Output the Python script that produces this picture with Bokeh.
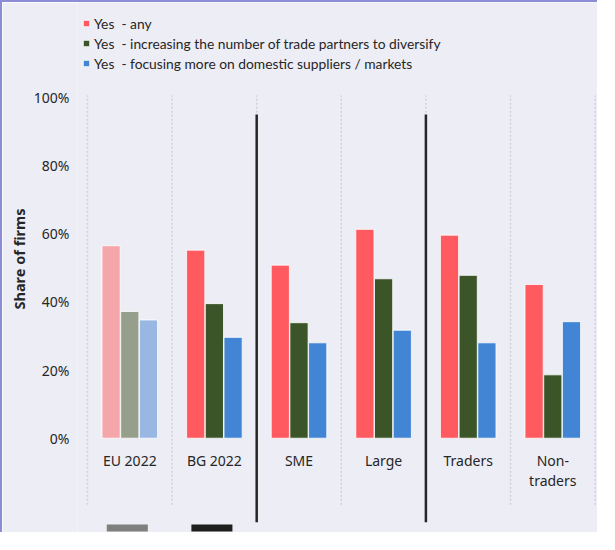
import math
from bokeh.plotting import figure
from bokeh.models import FixedTicker, Legend, LegendItem, Title, ColumnDataSource
from bokeh.core.properties import value
from bokeh.embed import file_html
from bokeh.resources import INLINE

# ---------------- data ----------------
categories = ["EU 2022", "BG 2022", "SME", "Large", "Traders", "Non-\ntraders"]
yes_any = [56.5, 55.2, 50.8, 61.3, 59.6, 45.1]
more_partners = [37.2, 39.5, 33.9, 46.8, 47.8, 18.6]
domestic = [34.7, 29.6, 28.0, 31.7, 28.0, 34.2]
series_names = [
    "Yes  - any",
    "Yes  - increasing the number of trade partners to diversify",
    "Yes  - focusing more on domestic suppliers / markets",
]
y_ticks = [0, 20, 40, 60, 80, 100]
y_tick_labels = ["0%", "20%", "40%", "60%", "80%", "100%"]
separator_after = [2, 4]      # solid separators between groups (category boundaries)
marker_categories = [0, 1]    # small bars under EU / BG

# ---------------- style ----------------
FONT = "Noto Sans"
LEG_FONT = "Lato"
BG = "#EDEDF5"
TXT = "#262626"
main_colors = ["#FF5A5F", "#3B5529", "#4285D4"]
faded_colors = ["#F5A6AB", "#959F8C", "#98B7E2"]
marker_colors = ["#7F7F7F", "#1E1E1E"]
offsets = [-0.221, 0.0, 0.221]
bar_w = 0.215

p = figure(
    width=597, height=532,
    x_range=(-0.1182, 6.052), y_range=(-28.26, 127.88),
    x_axis_location=None,
    output_backend="svg", toolbar_location=None,
    min_border_left=75, min_border_right=0, min_border_top=0, min_border_bottom=0,
)
p.styles = {"border-top": "2px solid #8C8CD7", "border-left": "2px solid #8C8CD7"}
p.background_fill_color = BG
p.border_fill_color = BG
p.outline_line_color = None
p.xgrid.visible = False
p.ygrid.visible = False

ya = p.yaxis[0]
ya.ticker = FixedTicker(ticks=y_ticks)
ya.major_label_overrides = {t: l for t, l in zip(y_ticks, y_tick_labels)}
ya.axis_line_color = None
ya.major_tick_line_color = None
ya.minor_tick_line_color = None
ya.major_tick_in = 0
ya.major_tick_out = 0
ya.major_label_standoff = 8
ya.major_label_text_font = FONT
ya.major_label_text_font_size = "14px"
ya.major_label_text_color = TXT

n = len(categories)
bounds = list(range(n + 1))
# dotted category dividers
p.segment(x0=bounds, y0=[-19.5] * len(bounds), x1=bounds, y1=[100.6] * len(bounds),
          line_color="#D0D0DC", line_dash="2 2", line_width=1.5)

# bars
renderers = []
for s, vals in enumerate([yes_any, more_partners, domestic]):
    xs = [i + 0.5 + offsets[s] for i in range(n)]
    cols = [faded_colors[s] if i == 0 else main_colors[s] for i in range(n)]
    src = ColumnDataSource(dict(x=xs, top=vals, color=cols))
    r = p.vbar(x="x", top="top", width=bar_w, bottom=0, source=src,
               fill_color="color", line_color="white", line_width=1, line_alpha=0.8)
    renderers.append(r)

# solid separators
p.segment(x0=separator_after, y0=[-24.7] * len(separator_after),
          x1=separator_after, y1=[95.0] * len(separator_after),
          line_color="#262626", line_width=2.5)

# category labels
p.text(x=[i + 0.5 for i in range(n)], y=[-3.7] * n, text=categories,
       text_align="center", text_baseline="top",
       text_font=value(FONT), text_font_size="14px", text_color=TXT,
       text_line_height=1.05)

# small marker bars below EU / BG
p.quad(left=[i + 0.228 for i in marker_categories], right=[i + 0.713 for i in marker_categories],
       bottom=[-27.4] * len(marker_categories), top=[-25.3] * len(marker_categories),
       fill_color=marker_colors, line_color=None)

# y axis title (left-aligned from frame bottom, shifted up to sit beside the bars)
p.add_layout(Title(text="Share of firms", align="left", offset=225,
                   text_font=FONT, text_font_size="14.5px", text_font_style="bold",
                   text_color=TXT, standoff=4), "left")

legend = Legend(
    items=[LegendItem(label=series_names[s], renderers=[renderers[s]], index=1) for s in range(3)],
    location=(5, 461), orientation="vertical",
    padding=0, margin=0, spacing=0,
    label_height=20, glyph_height=8, glyph_width=8, label_standoff=4,
    label_text_font=LEG_FONT, label_text_font_size="13.8px", label_text_color=TXT,
    border_line_color=None, background_fill_alpha=0,
)
p.add_layout(legend)

open("out.html", "w").write(file_html(p, INLINE))
